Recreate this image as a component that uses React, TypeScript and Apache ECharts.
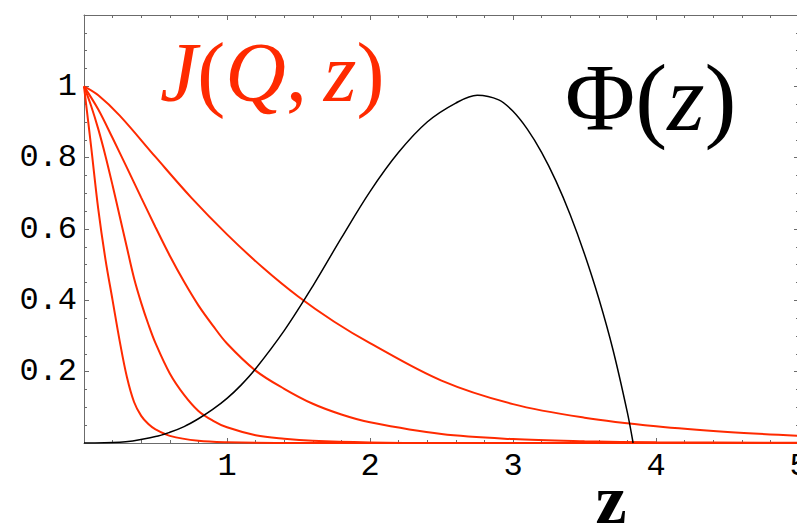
import React, { useEffect, useRef } from "react";
import * as echarts from "echarts";

// J(Q, z) family, broadest to steepest
const j1Z = [0, 0.1, 0.25, 0.5, 0.75, 1.0, 1.25, 1.5, 1.75, 2.0, 2.5, 3.0, 3.5, 4.0, 4.5, 5.0];
const j1V = [1, 0.975, 0.918, 0.802, 0.688, 0.585, 0.492, 0.41, 0.34, 0.28, 0.175, 0.109, 0.071, 0.047, 0.031, 0.02];

const j2Z = [0, 0.1, 0.2, 0.3, 0.4, 0.5, 0.6, 0.7, 0.8, 0.9, 1.0, 1.2, 1.4, 1.6, 1.8, 2.0, 2.5, 3.0, 3.5, 4.0, 5.0];
const j2V = [1, 0.935, 0.855, 0.772, 0.688, 0.605, 0.525, 0.452, 0.386, 0.33, 0.279, 0.203, 0.152, 0.11, 0.08, 0.058, 0.025, 0.011, 0.005, 0.002, 0.0005];

const j3Z = [0, 0.05, 0.1, 0.15, 0.2, 0.25, 0.3, 0.35, 0.4, 0.45, 0.5, 0.6, 0.7, 0.8, 0.9, 1.0, 1.2, 1.4, 1.6, 2.0, 2.5, 5.0];
const j3V = [1, 0.945, 0.88, 0.805, 0.722, 0.635, 0.548, 0.462, 0.393, 0.333, 0.28, 0.195, 0.135, 0.09, 0.063, 0.044, 0.022, 0.012, 0.006, 0.0015, 0, 0];

const j4Z = [0, 0.05, 0.1, 0.15, 0.2, 0.25, 0.3, 0.35, 0.4, 0.45, 0.5, 0.6, 0.8, 1.0, 1.5, 5.0];
const j4V = [1, 0.83, 0.655, 0.515, 0.4, 0.285, 0.185, 0.115, 0.076, 0.053, 0.038, 0.02, 0.006, 0.002, 0, 0];

// Phi(z)
const phiZ = [0, 0.25, 0.5, 0.6, 0.7, 0.8, 0.9, 1.0, 1.1, 1.2, 1.4, 1.6, 1.8, 2.0, 2.2, 2.4, 2.6, 2.75, 2.9, 3.0, 3.1, 3.2, 3.3, 3.4, 3.5, 3.6, 3.7, 3.8, 3.84];
const phiV = [0, 0.002, 0.018, 0.03, 0.046, 0.068, 0.094, 0.125, 0.163, 0.208, 0.315, 0.44, 0.575, 0.705, 0.815, 0.9, 0.953, 0.975, 0.962, 0.93, 0.88, 0.815, 0.735, 0.64, 0.53, 0.405, 0.26, 0.085, 0];

const xTickLabels = ["", "1", "2", "3", "4", "5"];
const yTickLabels = ["", "0.2", "0.4", "0.6", "0.8", "1", ""];

const RED = "#ff2a00";
const FRAME = "#6b6b6b";

const zip = (zs: number[], vs: number[]) => zs.map((z, i) => [z, vs[i]]);

export default function App() {
  const ref = useRef<HTMLDivElement>(null);

  useEffect(() => {
    if (!ref.current) return;
    const chart = echarts.init(ref.current, null, { renderer: "svg" });

    const frameAxis = {
      axisLine: { show: true, onZero: false, lineStyle: { color: FRAME, width: 1 } },
      axisTick: { show: true, inside: true, length: 5, lineStyle: { color: FRAME } },
      splitLine: { show: false },
    };

    const redLine = (name: string, zs: number[], vs: number[]) => ({
      name,
      type: "line",
      data: zip(zs, vs),
      showSymbol: false,
      smooth: 0.35,
      lineStyle: { color: RED, width: 2 },
      z: 3,
    });

    chart.setOption({
      animation: false,
      backgroundColor: "#ffffff",
      grid: { left: 84, top: 15, width: 715, height: 428, outerBoundsMode: "none", containLabel: false },
      xAxis: [
        {
          type: "value",
          min: 0,
          max: 5,
          interval: 1,
          position: "bottom",
          ...frameAxis,
          minorTick: { show: true, splitNumber: 5, length: 3, lineStyle: { color: FRAME } },
          axisLabel: {
            color: "#000",
            fontFamily: "Liberation Mono",
            fontSize: 32,
            margin: 7,
            formatter: (v: number) => xTickLabels[Math.round(v)] ?? "",
          },
        },
        {
          type: "value",
          min: 0,
          max: 5,
          interval: 1,
          position: "top",
          ...frameAxis,
          minorTick: { show: true, splitNumber: 5, length: 3, lineStyle: { color: FRAME } },
          axisLabel: { show: false },
        },
      ],
      yAxis: [
        {
          type: "value",
          min: 0,
          max: 1.2,
          interval: 0.2,
          position: "left",
          ...frameAxis,
          minorTick: { show: true, splitNumber: 4, length: 3, lineStyle: { color: FRAME } },
          axisLabel: {
            color: "#000",
            fontFamily: "Liberation Mono",
            fontSize: 32,
            margin: 7,
            formatter: (v: number) => yTickLabels[Math.round(v / 0.2)] ?? "",
          },
        },
        {
          type: "value",
          min: 0,
          max: 1.2,
          interval: 0.2,
          position: "right",
          ...frameAxis,
          minorTick: { show: true, splitNumber: 4, length: 3, lineStyle: { color: FRAME } },
          axisLabel: { show: false },
        },
      ],
      series: [
        redLine("J1", j1Z, j1V),
        redLine("J2", j2Z, j2V),
        redLine("J3", j3Z, j3V),
        redLine("J4", j4Z, j4V),
        {
          name: "Phi",
          type: "line",
          data: zip(phiZ, phiV),
          showSymbol: false,
          smooth: 0.35,
          lineStyle: { color: "#000", width: 1.5 },
          z: 4,
        },
      ],
      graphic: [
        {
          type: "text",
          x: 160,
          y: 72,
          style: {
            text: "{i|J}{n|(}{i|Q}{n|,\u2009}{i|z}{n|)}",
            fontFamily: "Liberation Serif",
            fontSize: 84,
            fill: RED,
            verticalAlign: "middle",
            rich: {
              i: { fontStyle: "italic", fontFamily: "Liberation Serif", fontSize: 84, fill: RED },
              n: { fontFamily: "Liberation Serif", fontSize: 84, fill: RED },
            },
          },
        },
        {
          type: "text",
          x: 565,
          y: 97,
          style: {
            text: "{n|\u03A6(}{i|z}{n|)}",
            fontFamily: "Liberation Serif",
            fontSize: 96,
            fill: "#000",
            verticalAlign: "middle",
            rich: {
              i: { fontStyle: "italic", fontFamily: "Liberation Serif", fontSize: 96, fill: "#000" },
              n: { fontFamily: "Liberation Serif", fontSize: 96, fill: "#000" },
            },
          },
        },
        {
          type: "text",
          x: 611,
          y: 499,
          style: {
            text: "z",
            fontFamily: "Liberation Serif",
            fontWeight: "bold",
            fontSize: 70,
            fill: "#000",
            align: "center",
            verticalAlign: "middle",
          },
        },
      ],
    });

    return () => chart.dispose();
  }, []);

  return (
    <div
      ref={ref}
      style={{ position: "fixed", left: 0, top: 0, width: 797, height: 527 }}
    />
  );
}
